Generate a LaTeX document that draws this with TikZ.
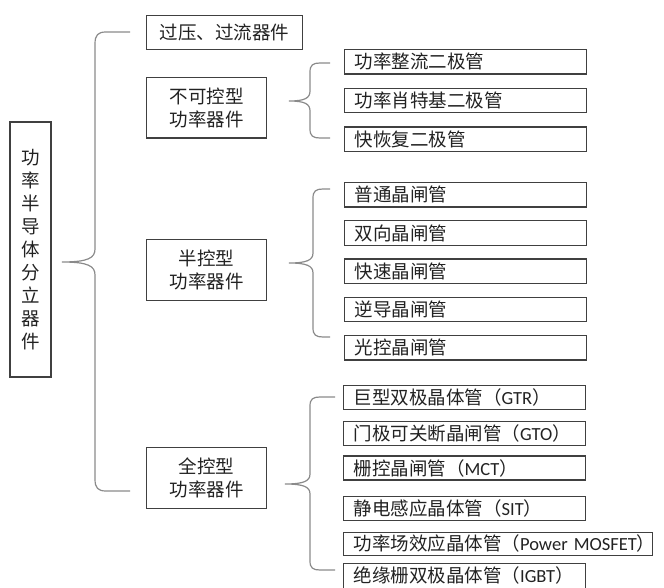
\documentclass[tikz,border=0pt]{standalone}
\usepackage{fontspec}
\setmainfont{Noto Sans CJK SC}
\newfontfamily\latf{Carlito}
\usetikzlibrary{positioning}
\definecolor{boxc}{HTML}{404040}
\definecolor{txtc}{HTML}{222222}
\definecolor{brcc}{HTML}{8A8A8A}

\begin{document}
\begin{tikzpicture}[x=1pt,y=-1pt,node distance=13pt,
  box/.style={draw=boxc,line width=1.2pt,inner sep=0pt,text=txtc,font=\fontsize{18.5}{23}\selectfont},
  cat/.style={box,minimum width=120pt,minimum height=60.5pt,align=center},
  leaf/.style={box,text width=222pt,inner xsep=10pt,minimum height=24.5pt,align=left},
  brc/.style={draw=brcc,line width=1.2pt}]

\useasboundingbox (0,0) rectangle (664,588);

\node(root)[box,minimum width=41pt,minimum height=255pt,align=center] at (30.5,249.5) {功\\率\\半\\导\\体\\分\\立\\器\\件};

\node(ovp)[box,minimum width=156pt,minimum height=34pt,anchor=north west] at (146,15) {过压、过流器件};

\node(unc)[cat,anchor=north west] at (146,77) {不可控型\\功率器件};

\node(semi)[cat,anchor=north west] at (146,239) {半控型\\功率器件};

\node(full)[cat,anchor=north west] at (146,447) {全控型\\功率器件};

% diodes
\node(d1)[leaf,anchor=north west] at (344,49) {功率整流二极管};
\node(d2)[leaf,below=of d1]{功率肖特基二极管};
\node(d3)[leaf,below=of d2]{快恢复二极管};

% thyristors
\node(t1)[leaf,anchor=north west] at (344,182) {普通晶闸管};
\node(t2)[leaf,below=12.5pt of t1]{双向晶闸管};
\node(t3)[leaf,below=12.5pt of t2]{快速晶闸管};
\node(t4)[leaf,below=12.5pt of t3]{逆导晶闸管};
\node(t5)[leaf,below=12.5pt of t4]{光控晶闸管};

% full control
\node(s1)[leaf,minimum height=24pt,anchor=north west] at (343,385) {巨型双极晶体管（{\latf GTR}）};
\node(s2)[leaf,minimum height=24pt,below=11pt of s1.south west,anchor=north west]{门极可关断晶闸管（{\latf GTO}）};
\node(s3)[leaf,minimum height=24pt,below=9pt of s2.south west,anchor=north west]{栅控晶闸管（{\latf MCT}）};
\node(s4)[leaf,minimum height=24pt,below=15pt of s3.south west,anchor=north west]{静电感应晶体管（{\latf SIT}）};
\node(s5)[leaf,minimum height=23pt,text width=289pt,below=11pt of s4.south west,anchor=north west]{\mbox{功率场效应晶体管（{\latf Power MOSFET}）}};
\node(s6)[leaf,minimum height=24.5pt,below=7pt of s5.south west,anchor=north west]{绝缘栅双极晶体管（{\latf IGBT}）};

\coordinate(b0a) at (130,32);
\coordinate(b0t) at (62,262);
\coordinate(b0b) at (130,491);
\draw[brc] (b0a) -- (106,32) .. controls (98,32) and (95,35) .. (95,44) -- (95,249) .. controls (95,258) and (88,262) .. (b0t) .. controls (88,262) and (95,266) .. (95,275) -- (95,479) .. controls (95,488) and (98,491) .. (106,491) -- (b0b);

\coordinate(b1a) at (330,63);
\coordinate(b1t) at (289,101);
\coordinate(b1b) at (330,138);
\draw[brc] (b1a) -- (320,63) .. controls (313,63) and (310,65) .. (310,72) -- (310,91) .. controls (310,98) and (305,101) .. (b1t) .. controls (305,101) and (310,104) .. (310,111) -- (310,129) .. controls (310,136) and (313,138) .. (320,138) -- (b1b);

\coordinate(b2a) at (330,189);
\coordinate(b2t) at (289,263);
\coordinate(b2b) at (330,337);
\draw[brc] (b2a) -- (323,189) .. controls (316,189) and (313,191) .. (313,198) -- (313,253) .. controls (313,260) and (307,263) .. (b2t) .. controls (307,263) and (313,266) .. (313,273) -- (313,328) .. controls (313,335) and (316,337) .. (323,337) -- (b2b);

\coordinate(b3a) at (335,397);
\coordinate(b3t) at (285,484);
\coordinate(b3b) at (335,570);
\draw[brc] (b3a) -- (320,397) .. controls (313,397) and (310,399) .. (310,406) -- (310,474) .. controls (310,481) and (304,484) .. (b3t) .. controls (304,484) and (310,487) .. (310,494) -- (310,561) .. controls (310,568) and (313,570) .. (320,570) -- (b3b);

\end{tikzpicture}
\end{document}
